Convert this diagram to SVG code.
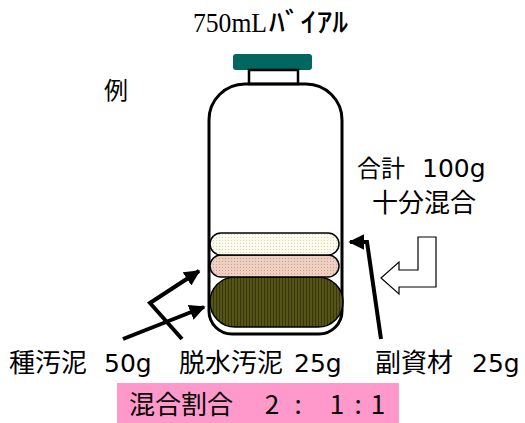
<svg xmlns="http://www.w3.org/2000/svg" width="525" height="423" viewBox="0 0 525 423">
  <style>
    .jp { font-family: "Noto Sans CJK JP", "Noto Sans", sans-serif; fill: #000; }
    .num { font-family: "DejaVu Sans", "Noto Sans CJK JP", sans-serif; }
    .title { font-family: "Liberation Serif", "Noto Sans CJK JP", serif; font-size: 27px; fill: #000; }
    .kana { font-family: "Noto Sans CJK JP", sans-serif; font-weight: 500; }
    .outline { fill: none; stroke: #000; stroke-width: 3; stroke-linejoin: round; }
    .layer { stroke: #000; stroke-width: 1.5; }
    .pointer { fill: none; stroke: #000; stroke-width: 4; stroke-linejoin: miter; }
  </style>
  <defs>
    <pattern id="dotsCream" width="3" height="3" patternUnits="userSpaceOnUse">
      <rect width="3" height="3" fill="#fbfbee"/>
      <rect width="1" height="1" fill="#d6d6b0"/>
    </pattern>
    <pattern id="dotsPink" width="3" height="3" patternUnits="userSpaceOnUse">
      <rect width="3" height="3" fill="#efcfc2"/>
      <rect width="1" height="1" fill="#c9a090"/>
    </pattern>
    <pattern id="hatchOlive" width="3" height="3" patternUnits="userSpaceOnUse">
      <rect width="3" height="3" fill="#555518"/>
      <rect width="1" height="3" fill="#36360a"/>
    </pattern>
    <marker id="head" viewBox="0 0 10 10" refX="9" refY="5" markerWidth="4" markerHeight="4" orient="auto" markerUnits="strokeWidth">
      <path d="M0,0 L10,5 L0,10 z" fill="#000"/>
    </marker>
  </defs>

  <!-- title -->
  <text class="title" x="193" y="32" textLength="74" lengthAdjust="spacingAndGlyphs">750mL</text>
  <text class="title kana" x="269" y="32" font-size="25" textLength="79" lengthAdjust="spacingAndGlyphs">ﾊﾞｲｱﾙ</text>

  <text class="jp" x="104" y="99" font-size="24">例</text>

  <!-- vial -->
  <g id="vial">
    <rect x="233" y="54" width="79" height="16" rx="3" fill="#006660"/>
    <rect x="249" y="70" width="49" height="14" fill="#fff" stroke="#000" stroke-width="2.5"/>
    <path class="outline" d="M245,84 H306 A36,36 0 0 1 342,120 V311 A23,23 0 0 1 319,334 H232 A23,23 0 0 1 209,311 V120 A36,36 0 0 1 245,84 Z"/>
  </g>

  <!-- contents -->
  <g id="layer-sludge">
    <rect class="layer" x="210" y="277" width="133" height="50" rx="25" fill="url(#hatchOlive)"/>
  </g>
  <g id="layer-dewatered">
    <rect class="layer" x="210" y="255" width="129" height="22" rx="11" fill="url(#dotsPink)"/>
  </g>
  <g id="layer-additive">
    <rect class="layer" x="210" y="233" width="129" height="22" rx="11" fill="url(#dotsCream)"/>
  </g>

  <!-- connectors -->
  <g id="connectors">
    <polyline class="pointer" points="182,339 150,303 199,271" marker-end="url(#head)"/>
    <polyline class="pointer" points="123,339 204,307" marker-end="url(#head)"/>
    <polyline class="pointer" points="381,339 367,242 350,242" marker-end="url(#head)"/>
  </g>

  <!-- mixing arrow -->
  <g id="mix-arrow">
    <polygon points="418,237 436,237 436,287 399,287 399,294 381,278 399,262 399,270 418,270" fill="#fff" stroke="#000" stroke-width="1.2"/>
  </g>

  <g id="total">
    <text class="jp" x="357" y="177" font-size="24">合計<tspan class="num" x="422" font-size="25">100g</tspan></text>
    <text class="jp" x="372" y="212" font-size="26">十分混合</text>
  </g>

  <g id="labels">
    <text class="jp" x="9" y="372" font-size="26">種汚泥<tspan class="num" x="104" font-size="25">50g</tspan></text>
    <text class="jp" x="179" y="372" font-size="26">脱水汚泥<tspan class="num" x="294" font-size="25">25g</tspan></text>
    <text class="jp" x="375" y="372" font-size="26">副資材<tspan class="num" x="472" font-size="25">25g</tspan></text>
  </g>

  <g id="ratio">
    <rect x="117" y="383" width="282" height="40" fill="#ff99cc"/>
    <text class="jp" x="129" y="414" font-size="26">混合割合</text>
    <text class="jp" y="414" font-size="26" text-anchor="middle"><tspan x="272">2</tspan><tspan x="298">:</tspan><tspan x="337">1</tspan><tspan x="358">:</tspan><tspan x="378">1</tspan></text>
  </g>
</svg>
